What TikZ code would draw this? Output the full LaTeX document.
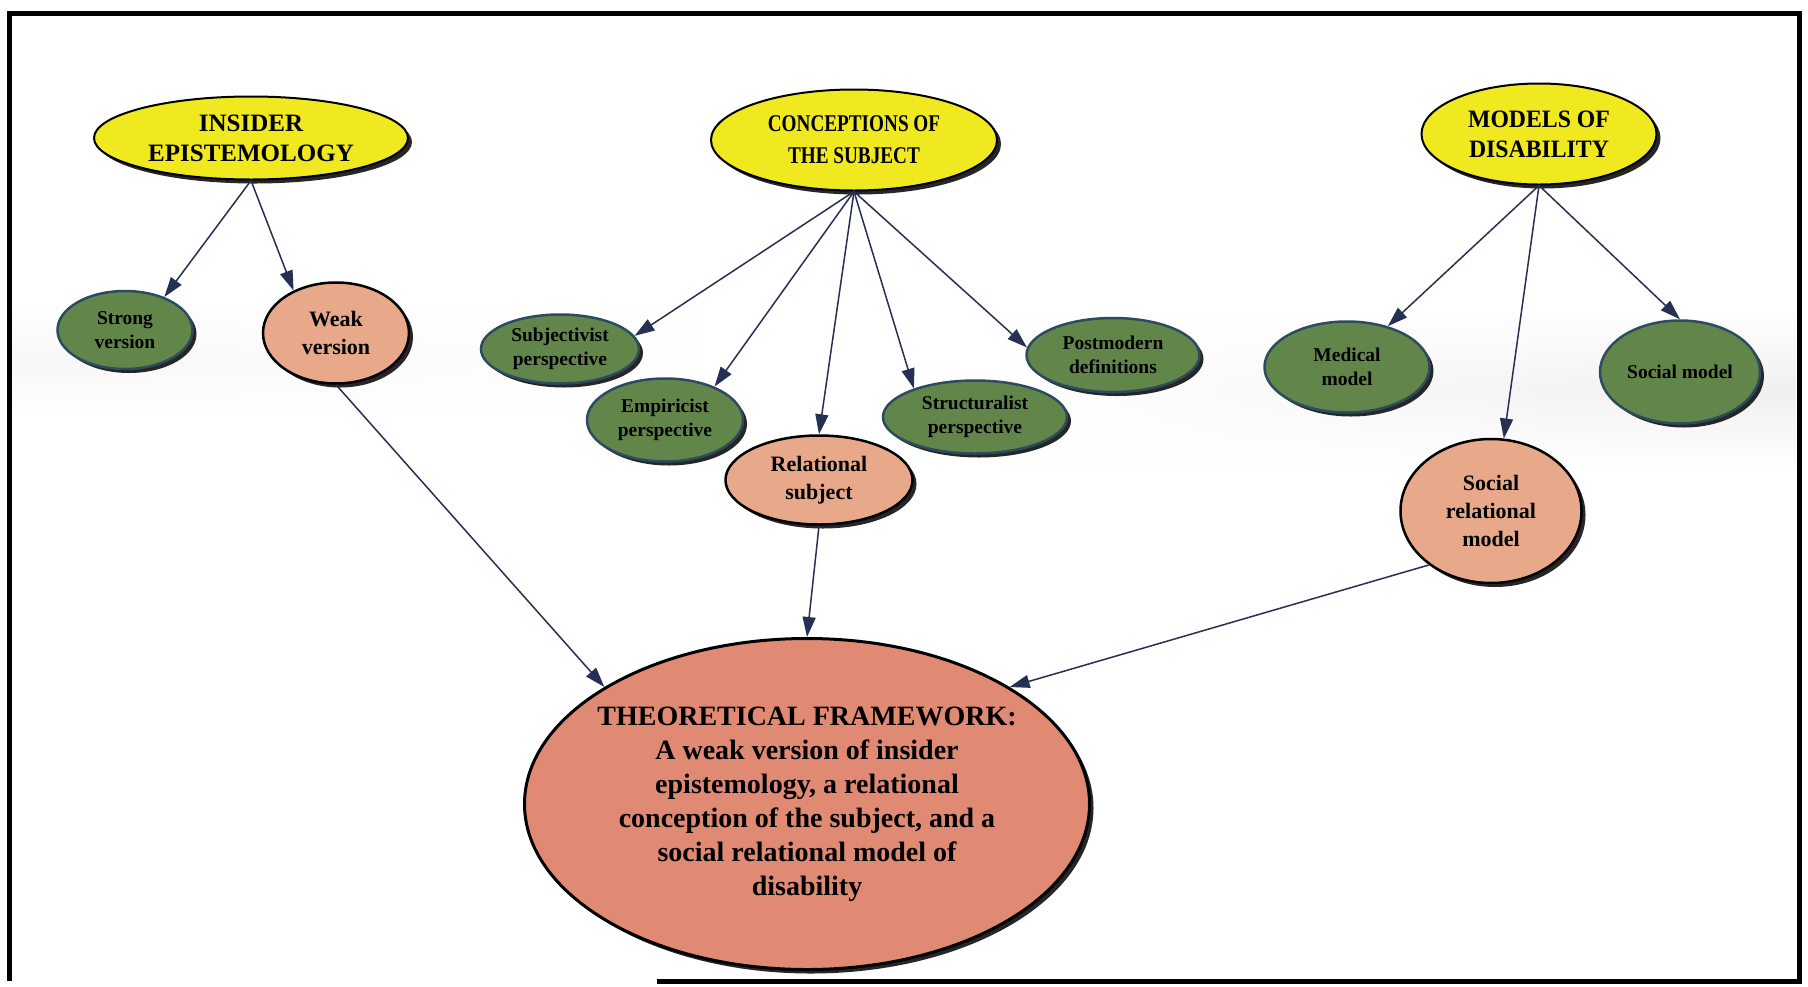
\documentclass[tikz,border=0pt]{standalone}
\usepackage{fontspec}
\setmainfont{Liberation Serif}
\usetikzlibrary{shapes.geometric,arrows.meta,shadows,fadings}
\definecolor{ylw}{RGB}{240,233,32}
\definecolor{grn}{RGB}{98,134,74}
\definecolor{slm}{RGB}{232,168,138}
\definecolor{theofill}{RGB}{224,138,116}
\definecolor{grnedge}{RGB}{45,75,95}
\definecolor{arr}{RGB}{38,48,82}
\begin{document}
\begin{tikzpicture}[x=1pt,y=-1pt,
  oval/.style={ellipse, inner sep=0pt, drop shadow={shadow xshift=4pt,shadow yshift=-4pt,fill=black!85,opacity=1}},
  topic/.style={oval, fill=ylw, draw=black, line width=2pt},
  opt/.style={oval, fill=grn, draw=grnedge, line width=2.5pt},
  pick/.style={oval, fill=slm, draw=black, line width=2.5pt},
  goal/.style={oval, fill=theofill, draw=black, line width=3pt},
  txt/.style={align=center, inner sep=0pt, text=black},
  bigtxt/.style={txt, font=\fontsize{25}{30}\selectfont\bfseries},
  smalltxt/.style={txt, font=\fontsize{19.5}{24}\selectfont\bfseries},
  midtxt/.style={txt, font=\fontsize{22}{28}\selectfont\bfseries},
  link/.style={draw=arr, line width=1.5pt, -{Triangle[length=20pt,width=13pt]}}
]
\useasboundingbox (0,0) rectangle (1808,986);
\fill[white] (0,0) rectangle (1808,986);
% faint grey haze behind the middle row
\shade[top color=white, bottom color=white, middle color=black!6, path fading=west] (1000,310) rectangle (1796,470);
\shade[top color=white, bottom color=white, middle color=black!3, path fading=east] (12,300) rectangle (700,420);
\draw[line width=5pt] (657,981) -- (1799,981) -- (1799,13) -- (9,13) -- (9,981);

% top level
\node[topic, minimum width=314pt, minimum height=83pt] (ins) at (251,138) {};
\node[bigtxt] (ins-t) at (ins) {INSIDER\\EPISTEMOLOGY};
\node[topic, minimum width=286pt, minimum height=101pt] (con) at (854,140) {};
\node[txt, font=\fontsize{24}{32}\selectfont\bfseries, xscale=0.8, transform shape] (con-t) at (con) {CONCEPTIONS OF\\THE SUBJECT};
\node[topic, minimum width=235pt, minimum height=101pt] (mod) at (1539,134) {};
\node[bigtxt, xscale=0.95, transform shape] (mod-t) at (mod) {MODELS OF\\DISABILITY};

% second level
\node[opt, minimum width=135pt, minimum height=78pt] (strong) at (125,330) {};
\node[smalltxt] (strong-t) at (strong) {Strong\\version};
\node[pick, minimum width=146pt, minimum height=101pt] (weak) at (336,333) {};
\node[midtxt] (weak-t) at (weak) {Weak\\version};

\node[opt, minimum width=158pt, minimum height=69pt] (subj) at (560,349) {};
\node[smalltxt] (subj-t) at (subj) {Subjectivist\\perspective};
\node[opt, minimum width=156pt, minimum height=83pt] (emp) at (665,420) {};
\node[smalltxt] (emp-t) at (emp) {Empiricist\\perspective};
\node[pick, minimum width=187pt, minimum height=89pt] (rel) at (819,480) {};
\node[midtxt] (rel-t) at (rel) {Relational\\subject};
\node[opt, minimum width=184pt, minimum height=73pt] (struct) at (975,417) {};
\node[smalltxt] (struct-t) at (struct) {Structuralist\\perspective};
\node[opt, minimum width=173pt, minimum height=74pt] (post) at (1113,355) {};
\node[smalltxt] (post-t) at (post) {Postmodern\\definitions};

\node[opt, minimum width=165pt, minimum height=91pt] (med) at (1347,367) {};
\node[smalltxt] (med-t) at (med) {Medical\\model};
\node[opt, minimum width=160pt, minimum height=103pt] (socm) at (1680,372) {};
\node[smalltxt] (socm-t) at (socm) {Social model};
\node[pick, minimum width=181pt, minimum height=144pt] (srm) at (1491,511) {};
\node[midtxt] (srm-t) at (srm) {Social\\relational\\model};

% framework
\node[goal, minimum width=565pt, minimum height=331pt] (theo) at (807,804) {};
\node[txt, font=\fontsize{28}{34}\selectfont\bfseries] (theo-t) at (theo) {THEORETICAL FRAMEWORK:\\A weak version of insider\\epistemology, a relational\\conception of the subject, and a\\social relational model of\\disability};

% connectors
\draw[link] (ins.south) -- (strong.40);
\draw[link] (ins.south) -- (weak.135);
\draw[link] (con.south) -- (subj.10);
\draw[link] (con.south) -- (emp.34);
\draw[link] (con.south) -- (rel.north);
\draw[link] (con.south) -- (struct.155);
\draw[link] (con.south) -- (post.175);
\draw[link] (mod.south) -- (med.45);
\draw[link] (mod.south) -- (srm.80);
\draw[link] (mod.south) -- (socm.north);
\draw[link] (weak.south) -- (theo.150);
\draw[link] (rel.south) -- (theo.north);
\draw[link] (srm.221) -- (theo.30);
\end{tikzpicture}
\end{document}
